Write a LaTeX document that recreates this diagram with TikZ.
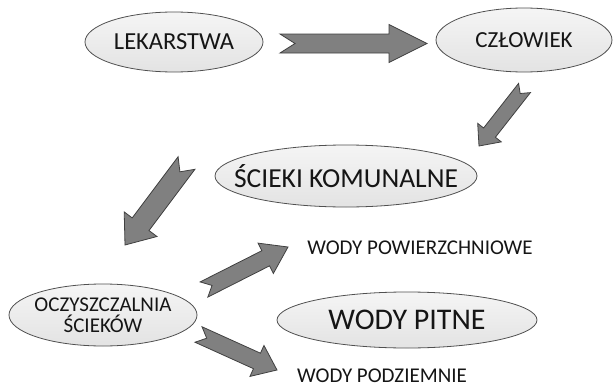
\documentclass[tikz,border=0pt]{standalone}
\usepackage{fontspec}
\setmainfont{Carlito}
\usetikzlibrary{calc,shapes.geometric}

\definecolor{arrowfill}{HTML}{808080}
\definecolor{arrowline}{HTML}{404040}
\definecolor{bubbleline}{HTML}{505050}
\definecolor{inktext}{HTML}{151515}

% notched block arrow from #1 (tail centre) to #2 (tip)
% #3 half shaft width, #4 half head width, #5 head length, #6 notch depth
\newcommand\notchedarrow[6]{%
  \draw[blockarrow]
    ($(#1)!#3!90:(#2)$) --
    ($(#2)!#5!(#1)!#3!-90:(#1)$) --
    ($(#2)!#5!(#1)!#4!-90:(#1)$) --
    (#2) --
    ($(#2)!#5!(#1)!#4!90:(#1)$) --
    ($(#2)!#5!(#1)!#3!90:(#1)$) --
    ($(#1)!#3!-90:(#2)$) --
    ($(#1)!#6!(#2)$) -- cycle;}

\tikzset{
  bubble/.style={ellipse, draw=bubbleline, line width=0.8pt,
    top color=gray!8, bottom color=gray!22, inner sep=0pt},
  label/.style={text=inktext, inner sep=0pt, align=center},
  blockarrow/.style={fill=arrowfill, draw=arrowline, line width=0.8pt,
    line join=miter},
}

\begin{document}
\begin{tikzpicture}[x=1pt, y=-1pt]
  \useasboundingbox (0,0) rectangle (613,388);

  % ellipses
  \node[bubble, minimum width=178pt, minimum height=60pt] (lek) at (174,42) {};
  \node[label, font=\fontsize{24.5}{24.5}\selectfont] (lekT) at (lek) {LEKARSTWA};

  \node[bubble, minimum width=176pt, minimum height=64pt] (czl) at (524,40) {};
  \node[label, font=\fontsize{23}{23}\selectfont] (czlT) at (czl) {CZŁOWIEK};

  \node[bubble, minimum width=262pt, minimum height=62pt] (sciek) at (346,176) {};
  \node[label, font=\fontsize{27.5}{27.5}\selectfont] (sciekT) at (sciek) {ŚCIEKI KOMUNALNE};

  \node[bubble, minimum width=188pt, minimum height=62pt] (ocz) at (103,315) {};
  \node[label, font=\fontsize{21}{21}\selectfont] (oczT) at (ocz) {OCZYSZCZALNIA\\ŚCIEKÓW};

  \node[bubble, minimum width=260pt, minimum height=56pt] (pitne) at (407,320) {};
  \node[label, font=\fontsize{30}{30}\selectfont] (pitneT) at (pitne) {WODY PITNE};

  % plain labels
  \node[label, font=\fontsize{21}{21}\selectfont] (pow) at (420,248) {WODY POWIERZCHNIOWE};
  \node[label, font=\fontsize{21}{21}\selectfont, anchor=base] (pod) at (382,382) {WODY PODZIEMNIE};

  % arrow ends
  \coordinate (a1s) at (280,43.5);   \coordinate (a1e) at (427,43.5);
  \coordinate (a2s) at (524.5,88);   \coordinate (a2e) at (479,146);
  \coordinate (a3s) at (186.5,163);  \coordinate (a3e) at (125,245);
  \coordinate (a4s) at (204,289.5);  \coordinate (a4e) at (288,247);
  \coordinate (a5s) at (198.5,334.5);\coordinate (a5e) at (277,370);

  \notchedarrow{a1s}{a1e}{9.5pt}{19pt}{38pt}{15pt}
  \notchedarrow{a2s}{a2e}{7.5pt}{15pt}{17pt}{7pt}
  \notchedarrow{a3s}{a3e}{10.5pt}{20.5pt}{26pt}{11pt}
  \notchedarrow{a4s}{a4e}{8.5pt}{17pt}{25pt}{9pt}
  \notchedarrow{a5s}{a5e}{8.5pt}{17pt}{22pt}{9pt}
\end{tikzpicture}
\end{document}
